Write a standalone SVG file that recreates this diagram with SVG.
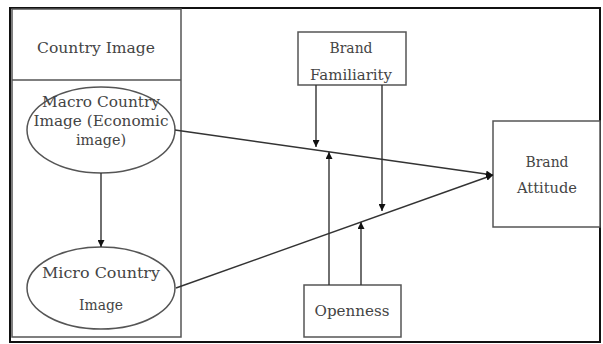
<svg xmlns="http://www.w3.org/2000/svg" width="603" height="344" viewBox="0 0 603 344">
<style>
.t{font-family:"DejaVu Serif","Liberation Serif",serif;font-size:14px;fill:#444;text-anchor:middle}
.b{fill:#fff;stroke:#555;stroke-width:1.5}
.c{stroke:#333;stroke-width:1.4;fill:none}
</style>
<defs>
<marker id="ah" viewBox="0 0 10 10" refX="10" refY="5" markerWidth="7" markerHeight="7" markerUnits="userSpaceOnUse" orient="auto">
<path d="M0,0 L10,5 L0,10 z" fill="#111"/>
</marker>
</defs>
<rect x="0" y="0" width="603" height="344" fill="#fff"/>
<rect x="10" y="8" width="590" height="334" fill="none" stroke="#111" stroke-width="2"/>
<g id="country-image">
<rect x="12" y="9" width="169" height="328" fill="none" stroke="#555" stroke-width="1.5"/>
<line x1="12" y1="80" x2="181" y2="80" stroke="#555" stroke-width="1.5"/>
<text class="t" x="96" y="53" textLength="118" lengthAdjust="spacingAndGlyphs">Country Image</text>
</g>
<g id="macro">
<ellipse class="b" cx="101" cy="130" rx="74" ry="43"/>
<text class="t" x="101" y="107" textLength="118" lengthAdjust="spacingAndGlyphs">Macro Country</text>
<text class="t" x="101" y="126" textLength="135" lengthAdjust="spacingAndGlyphs">Image (Economic</text>
<text class="t" x="101" y="145" textLength="50" lengthAdjust="spacingAndGlyphs">image)</text>
</g>
<g id="micro">
<ellipse class="b" cx="101" cy="288" rx="74" ry="41"/>
<text class="t" x="101" y="278" textLength="118" lengthAdjust="spacingAndGlyphs">Micro Country</text>
<text class="t" x="101" y="310" textLength="44" lengthAdjust="spacingAndGlyphs">Image</text>
</g>
<g id="brand-familiarity">
<rect class="b" x="298" y="32" width="108" height="53"/>
<text class="t" x="351" y="53" textLength="43" lengthAdjust="spacingAndGlyphs">Brand</text>
<text class="t" x="351" y="80" textLength="82" lengthAdjust="spacingAndGlyphs">Familiarity</text>
</g>
<g id="openness">
<rect class="b" x="304" y="285" width="97" height="52"/>
<text class="t" x="352" y="316" textLength="75" lengthAdjust="spacingAndGlyphs">Openness</text>
</g>
<g id="brand-attitude">
<rect class="b" x="493" y="121" width="107" height="106"/>
<text class="t" x="547" y="167" textLength="43" lengthAdjust="spacingAndGlyphs">Brand</text>
<text class="t" x="547" y="193" textLength="60" lengthAdjust="spacingAndGlyphs">Attitude</text>
</g>
<g id="connectors">
<line class="c" x1="101" y1="173" x2="101" y2="247" marker-end="url(#ah)"/>
<line class="c" x1="175" y1="130" x2="493" y2="175" marker-end="url(#ah)"/>
<line class="c" x1="176" y1="288" x2="493" y2="175" marker-end="url(#ah)"/>
<line class="c" x1="316" y1="85" x2="316" y2="147" marker-end="url(#ah)"/>
<line class="c" x1="382" y1="85" x2="382" y2="211" marker-end="url(#ah)"/>
<line class="c" x1="329" y1="285" x2="329" y2="152" marker-end="url(#ah)"/>
<line class="c" x1="361" y1="285" x2="361" y2="222" marker-end="url(#ah)"/>
</g>
</svg>
